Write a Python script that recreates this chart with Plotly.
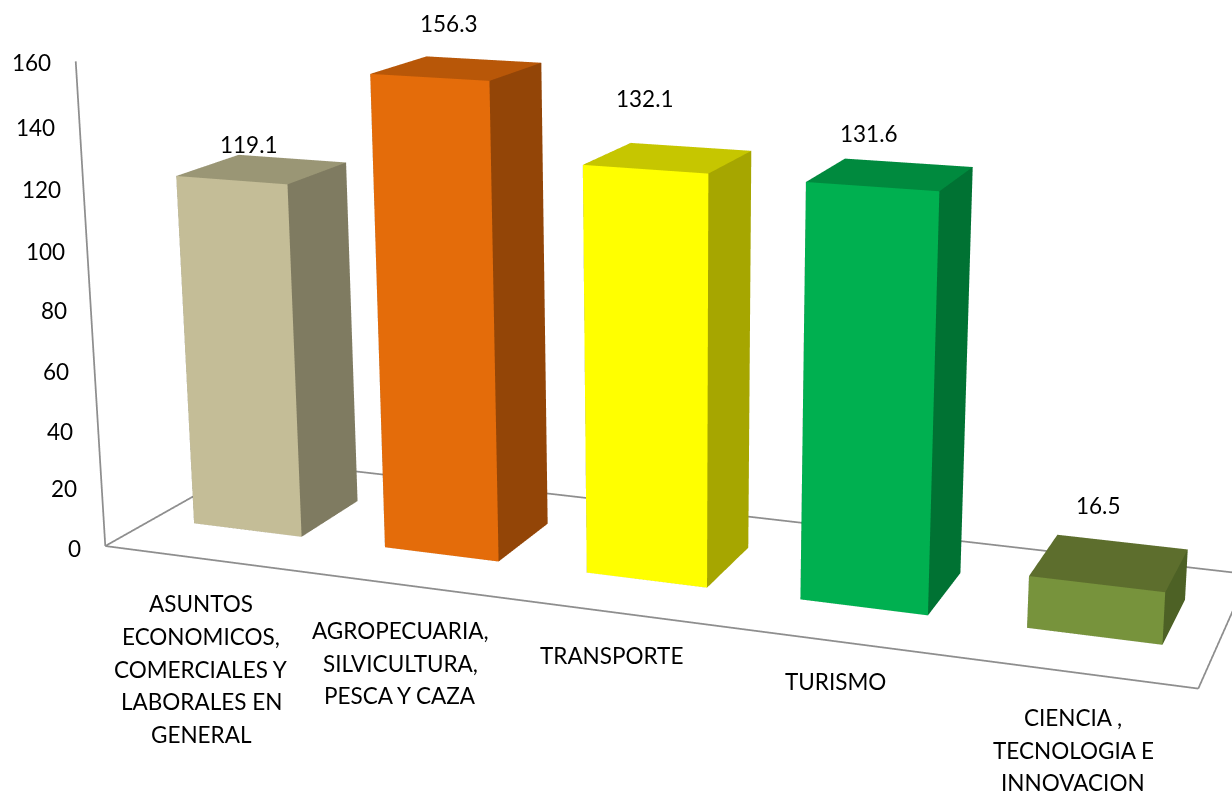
import plotly.graph_objects as go

# ---- data ----
CATEGORIES = [
    "ASUNTOS\nECONOMICOS,\nCOMERCIALES Y\nLABORALES EN\nGENERAL",
    "AGROPECUARIA,\nSILVICULTURA,\nPESCA Y CAZA",
    "TRANSPORTE",
    "TURISMO",
    "CIENCIA ,\nTECNOLOGIA E\nINNOVACION",
]
VALUES = [119.1, 156.3, 132.1, 131.6, 16.5]
VALUE_LABELS = ["119.1", "156.3", "132.1", "131.6", "16.5"]
TICKS = [0, 20, 40, 60, 80, 100, 120, 140, 160]

# ---- styles ----
FRONT = ["#C4BD97", "#E46C0A", "#FFFF00", "#00B050", "#77933C"]
SIDE = ["#7F7B61", "#934507", "#A6A600", "#007233", "#4D6125"]
TOPC = ["#9A9675", "#B85708", "#C6C600", "#008A3E", "#5D6E2D"]
LINE = "#8E8E8E"
FONT = "Lato"
FS = 22.5
LINE_STEP = 32.7
W, H = 1232, 794

# ---- 3-D layout: floor cell geometry and the view that frames it ----
GAP, Y_FRONT, Y_BACK = 0.215, 0.30, 0.70
ZMAX = 160.0
SKEW_XY, SKEW_XZ, SKEW_YZ = 0.4390, -0.2117, 1.6218
XR, YR, ZR = [-1, 7], [-0.5, 3], [0, 160]
ASPECT = dict(x=1.0, y=0.31595, z=0.24509)
EYE = dict(x=-0.00137, y=-0.46817, z=0.30183)
CENTER = dict(x=-0.0727, y=-0.0348, z=-0.0292)
UP = dict(x=-0.09950, y=0.59355, z=0.79862)


def to_scene(x, y, z):
    """Category/depth/value -> scene data coordinates (oblique view)."""
    zn = z / ZMAX
    return x + SKEW_XY * y + SKEW_XZ * zn, y + SKEW_YZ * zn, z


def box(i, v):
    xl, xr = i + GAP, i + 1 - GAP
    corners = [(xl, Y_FRONT, 0), (xr, Y_FRONT, 0), (xr, Y_BACK, 0), (xl, Y_BACK, 0),
               (xl, Y_FRONT, v), (xr, Y_FRONT, v), (xr, Y_BACK, v), (xl, Y_BACK, v)]
    return zip(*[to_scene(*c) for c in corners])


def segment(a, b):
    xs, ys, zs = zip(to_scene(*a), to_scene(*b))
    return go.Scatter3d(x=xs, y=ys, z=zs, mode="lines", hoverinfo="skip",
                        line=dict(color=LINE, width=3.5), showlegend=False)


fig = go.Figure()

n = len(CATEGORIES)
for a, b in [((0, 0, 0), (n, 0, 0)), ((0, 0, 0), (0, 1, 0)), ((0, 1, 0), (n, 1, 0)),
             ((n, 0, 0), (n, 1, 0)), ((0, 0, 0), (0, 0, TICKS[-1]))]:
    fig.add_trace(segment(a, b))

TRI_I = [0, 0, 4, 4, 1, 1, 0, 0, 3, 3, 2, 2]
TRI_J = [1, 5, 5, 6, 2, 6, 3, 7, 2, 6, 1, 0]
TRI_K = [5, 4, 6, 7, 6, 5, 7, 4, 6, 7, 0, 3]
for i, v in enumerate(VALUES):
    xs, ys, zs = box(i, v)
    face = [FRONT[i]] * 2 + [TOPC[i]] * 2 + [SIDE[i]] * 8
    fig.add_trace(go.Mesh3d(x=xs, y=ys, z=zs, i=TRI_I, j=TRI_J, k=TRI_K, facecolor=face,
                            flatshading=True, hovertemplate=f"{v}<extra></extra>",
                            lighting=dict(ambient=1, diffuse=0, specular=0, fresnel=0, roughness=1)))

# ---- text placement (page pixels) ----
TICK_POS = [(83, 548), (79, 489), (75, 431), (71, 371), (69, 311), (67, 251), (63, 189), (57, 127), (53, 62)]
VALUE_POS = [(249, 144.5), (449, 23.5), (645, 98.5), (869, 133.5), (1098, 505.5)]
CAT_POS = [(201, 669), (400, 663), (611, 655), (835, 681), (1073, 750)]


def note(text, px, py, anchor="center"):
    return dict(text=text, x=px / W, y=1 - py / H, xref="paper", yref="paper", showarrow=False,
                xanchor=anchor, yanchor="middle", align="center",
                font=dict(family=FONT, size=FS, color="#000000"))


ann = [note(str(t), *p, anchor="right") for t, p in zip(TICKS, TICK_POS)]
ann += [note(t, *p) for t, p in zip(VALUE_LABELS, VALUE_POS)]
for text, (px, py) in zip(CATEGORIES, CAT_POS):
    lines = text.split("\n")
    for k, line in enumerate(lines):
        ann.append(note(line, px, py + (k - (len(lines) - 1) / 2) * LINE_STEP))

axis = dict(visible=False)
fig.update_layout(
    width=W, height=H, margin=dict(l=0, r=0, t=0, b=0), paper_bgcolor="white", showlegend=False,
    annotations=ann,
    scene=dict(
        domain=dict(x=[0, 1], y=[0, 1]), bgcolor="white", dragmode="orbit",
        xaxis=dict(range=XR, **axis), yaxis=dict(range=YR, **axis), zaxis=dict(range=ZR, **axis),
        aspectmode="manual", aspectratio=ASPECT,
        camera=dict(eye=EYE, center=CENTER, up=UP, projection=dict(type="perspective")),
    ),
)
fig.write_html("out.html", config=dict(displayModeBar=False),
               post_script="document.body.style.margin='0';")
